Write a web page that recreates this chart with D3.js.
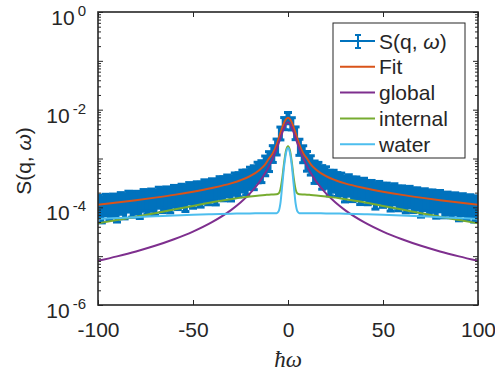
<!DOCTYPE html>
<html>
<head>
<meta charset="utf-8">
<script src="https://cdn.jsdelivr.net/npm/d3@7"></script>
<style>
  body { margin: 0; background: #fff; }
  svg text { font-family: "Liberation Sans", Arial, Helvetica, sans-serif; fill: #262626; }
</style>
</head>
<body>
<div id="chart"></div>
<script>
// measured S(q,w) with error bars
const dataX = [-100,-98,-96,-94,-92,-90,-88,-86,-84,-82,-80,-78,-76,-74,-72,-70,-68,-66,-64,-62,-60,-58,-56,-54,-52,-50,-48,-46,-44,-42,-40,-38,-36,-34,-32,-30,-28,-26,-24,-22,-20,-18,-16,-14,-12,-10,-8,-6,-4,-2,0,
  2,4,6,8,10,12,14,16,18,20,22,24,26,28,30,32,34,36,38,40,42,44,46,48,50,52,54,56,58,60,62,64,66,68,70,72,74,76,78,80,82,84,86,88,90,92,94,96,98,100];
const dataY = [1.19e-4,1.06e-4,1.26e-4,1.16e-4,1.26e-4,1.13e-4,1.36e-4,1.24e-4,1.47e-4,1.32e-4,1.43e-4,1.31e-4,1.57e-4,1.48e-4,1.60e-4,1.47e-4,1.77e-4,1.62e-4,1.76e-4,1.65e-4,1.91e-4,1.83e-4,2.01e-4,1.81e-4,2.19e-4,2.01e-4,2.24e-4,2.14e-4,2.49e-4,2.34e-4,2.59e-4,2.42e-4,2.88e-4,2.78e-4,3.11e-4,2.90e-4,3.41e-4,3.38e-4,3.92e-4,3.80e-4,4.48e-4,4.70e-4,5.78e-4,6.11e-4,7.83e-4,9.6e-4,1.33e-3,1.84e-3,3.40e-3,5.39e-3,6.94e-3,
  5.34e-3,3.43e-3,1.82e-3,1.32e-3,9.7e-4,7.98e-4,5.99e-4,5.72e-4,4.75e-4,4.61e-4,3.72e-4,3.89e-4,3.41e-4,3.38e-4,2.84e-4,3.17e-4,2.73e-4,2.83e-4,2.44e-4,2.69e-4,2.34e-4,2.38e-4,2.05e-4,2.30e-4,2.05e-4,2.11e-4,1.83e-4,2.08e-4,1.78e-4,1.85e-4,1.65e-4,1.83e-4,1.62e-4,1.70e-4,1.42e-4,1.63e-4,1.48e-4,1.53e-4,1.32e-4,1.51e-4,1.30e-4,1.38e-4,1.27e-4,1.34e-4,1.16e-4,1.29e-4,1.15e-4,1.22e-4,1.08e-4,1.15e-4];
const dataErr = [5.7e-5,5.8e-5,5.9e-5,6.0e-5,6.1e-5,6.3e-5,6.4e-5,6.6e-5,6.7e-5,6.9e-5,7.0e-5,7.2e-5,7.4e-5,7.6e-5,7.7e-5,7.9e-5,8.1e-5,8.4e-5,8.6e-5,8.8e-5,9.0e-5,9.3e-5,9.6e-5,9.9e-5,1.02e-4,1.05e-4,1.09e-4,1.13e-4,1.17e-4,1.21e-4,1.25e-4,1.30e-4,1.36e-4,1.42e-4,1.48e-4,1.55e-4,1.64e-4,1.74e-4,1.85e-4,2.0e-4,2.15e-4,2.4e-4,2.6e-4,2.9e-4,3.4e-4,4.2e-4,5.0e-4,6.6e-4,1.0e-3,1.5e-3,1.8e-3,
  1.5e-3,1.0e-3,6.6e-4,5.0e-4,4.2e-4,3.4e-4,2.9e-4,2.6e-4,2.4e-4,2.15e-4,2.0e-4,1.85e-4,1.74e-4,1.64e-4,1.55e-4,1.48e-4,1.42e-4,1.36e-4,1.30e-4,1.25e-4,1.21e-4,1.17e-4,1.13e-4,1.09e-4,1.05e-4,1.02e-4,9.9e-5,9.6e-5,9.3e-5,9.0e-5,8.8e-5,8.6e-5,8.4e-5,8.1e-5,7.9e-5,7.7e-5,7.6e-5,7.4e-5,7.2e-5,7.0e-5,6.9e-5,6.7e-5,6.6e-5,6.4e-5,6.3e-5,6.1e-5,6.0e-5,5.9e-5,5.8e-5,5.7e-5];

// model curves
const curveX = [-100,-90,-80,-70,-60,-50,-40,-30,-25,-20,-15,-12,-10,-8,-6,-5,-4,-3,-2,-1,0,1,2,3,4,5,6,8,10,12,15,20,25,30,40,50,60,70,80,90,100];
const fitY = [1.13e-4,1.25e-4,1.40e-4,1.58e-4,1.80e-4,2.09e-4,2.49e-4,3.09e-4,3.58e-4,4.35e-4,5.84e-4,7.6e-4,1.0e-3,1.28e-3,1.9e-3,2.5e-3,3.3e-3,4.3e-3,5.5e-3,6.4e-3,6.8e-3,
  6.4e-3,5.5e-3,4.3e-3,3.3e-3,2.5e-3,1.9e-3,1.28e-3,1.0e-3,7.6e-4,5.84e-4,4.35e-4,3.58e-4,3.09e-4,2.49e-4,2.09e-4,1.80e-4,1.58e-4,1.40e-4,1.25e-4,1.13e-4];
const globalY = [8.0e-6,9.9e-6,1.25e-5,1.63e-5,2.22e-5,3.18e-5,4.96e-5,8.75e-5,1.25e-4,1.93e-4,3.33e-4,5.02e-4,6.97e-4,1.02e-3,1.58e-3,2.02e-3,2.61e-3,3.39e-3,4.31e-3,5.15e-3,5.5e-3,
  5.15e-3,4.31e-3,3.39e-3,2.61e-3,2.02e-3,1.58e-3,1.02e-3,6.97e-4,5.02e-4,3.33e-4,1.93e-4,1.25e-4,8.75e-5,4.96e-5,3.18e-5,2.22e-5,1.63e-5,1.25e-5,9.9e-6,8.0e-6];
const internalY = [4.7e-5,5.5e-5,6.4e-5,7.6e-5,9.0e-5,1.07e-4,1.27e-4,1.47e-4,1.58e-4,1.67e-4,1.75e-4,1.79e-4,1.82e-4,1.83e-4,1.85e-4,1.92e-4,2.33e-4,4.0e-4,8.4e-4,1.47e-3,1.78e-3,
  1.47e-3,8.4e-4,4.0e-4,2.33e-4,1.92e-4,1.85e-4,1.83e-4,1.82e-4,1.79e-4,1.75e-4,1.67e-4,1.58e-4,1.47e-4,1.27e-4,1.07e-4,9.0e-5,7.6e-5,6.4e-5,5.5e-5,4.7e-5];
const waterY = [5.8e-5,6.05e-5,6.3e-5,6.55e-5,6.8e-5,7.05e-5,7.22e-5,7.4e-5,7.46e-5,7.5e-5,7.55e-5,7.57e-5,7.58e-5,7.59e-5,7.6e-5,8.2e-5,1.2e-4,2.9e-4,7.2e-4,1.33e-3,1.65e-3,
  1.33e-3,7.2e-4,2.9e-4,1.2e-4,8.2e-5,7.6e-5,7.59e-5,7.58e-5,7.57e-5,7.55e-5,7.5e-5,7.46e-5,7.4e-5,7.22e-5,7.05e-5,6.8e-5,6.55e-5,6.3e-5,6.05e-5,5.8e-5];

const xTicks = [-100, -50, 0, 50, 100];
const yLabelExps = [0, -2, -4, -6];
const legendNames = ['S(q, ω)', 'Fit', 'global', 'internal', 'water'];

const colors = {
  data: '#0072BD', fit: '#D95319', global: '#7E2F8E', internal: '#77AC30', water: '#4DBEEE'
};
const ink = '#262626';

const W = 495, H = 378;
const margin = { top: 12, right: 17, bottom: 73, left: 98 };
const width = W - margin.left - margin.right;
const height = H - margin.top - margin.bottom;

const svg = d3.select('#chart').append('svg')
  .attr('width', W).attr('height', H);

const g = svg.append('g')
  .attr('transform', `translate(${margin.left},${margin.top})`);

const x = d3.scaleLinear().domain([-100, 100]).range([0, width]);
const y = d3.scaleLog().domain([1e-6, 1]).range([height, 0]);

g.append('clipPath').attr('id', 'clip')
  .append('rect').attr('width', width).attr('height', height);

const plot = g.append('g').attr('clip-path', 'url(#clip)');

// data with error bars
const data = dataX.map((d, i) => ({ x: d, v: dataY[i], e: dataErr[i] }));
const bars = plot.append('g')
  .attr('stroke', colors.data);
bars.selectAll('line.eb')
  .data(data)
  .enter()
  .append('line')
    .attr('class', 'eb')
    .attr('stroke-width', 5)
    .attr('x1', (d) => x(d.x)).attr('x2', (d) => x(d.x))
    .attr('y1', (d) => y(d.v - d.e)).attr('y2', (d) => y(d.v + d.e));
['capT', 'capB'].forEach((cls, k) => {
  bars.selectAll('line.' + cls)
    .data(data)
    .enter()
    .append('line')
      .attr('class', cls)
      .attr('stroke-width', 3)
      .attr('x1', (d) => x(d.x) - 4).attr('x2', (d) => x(d.x) + 4)
      .attr('y1', (d) => y(k ? d.v - d.e : d.v + d.e))
      .attr('y2', (d) => y(k ? d.v - d.e : d.v + d.e));
});
plot.append('path')
  .datum(data)
  .attr('fill', 'none')
  .attr('stroke', colors.data)
  .attr('stroke-width', 2)
  .attr('d', d3.line().x((d) => x(d.x)).y((d) => y(d.v)));

// model lines
const line = d3.line()
  .x((d) => x(d[0]))
  .y((d) => y(d[1]))
  .curve(d3.curveMonotoneX);

[[fitY, colors.fit], [globalY, colors.global], [internalY, colors.internal], [waterY, colors.water]]
  .forEach(([vals, col]) => {
    plot.append('path')
      .datum(curveX.map((cx, i) => [cx, vals[i]]))
      .attr('fill', 'none')
      .attr('stroke', col)
      .attr('stroke-width', 2)
      .attr('d', line);
  });

// axes: ticks pointing inward on all four sides
const yMajor = d3.range(-6, 1).map((p) => Math.pow(10, p));
const yMinor = [];
for (let p = -6; p < 0; p++) for (let k = 2; k <= 9; k++) yMinor.push(k * Math.pow(10, p));

function styleAxis(sel) {
  sel.select('.domain').remove();
  sel.selectAll('.tick line').attr('stroke', ink).attr('stroke-width', 1);
}

g.append('g').attr('transform', `translate(0,${height})`)
  .call(d3.axisBottom(x).tickValues(xTicks).tickSize(-5).tickPadding(17).tickFormat((d) => d))
  .call(styleAxis)
  .call((s) => s.selectAll('text').attr('font-size', 21).style('font-family', '"Liberation Sans", Arial, sans-serif').attr('fill', ink));
g.append('g')
  .call(d3.axisTop(x).tickValues(xTicks).tickSize(-5).tickFormat(''))
  .call(styleAxis);
g.append('g')
  .call(d3.axisLeft(y).tickValues(yMajor).tickSize(-5).tickFormat(''))
  .call(styleAxis);
g.append('g')
  .call(d3.axisLeft(y).tickValues(yMinor).tickSize(-3).tickFormat(''))
  .call(styleAxis);
g.append('g').attr('transform', `translate(${width},0)`)
  .call(d3.axisRight(y).tickValues(yMajor).tickSize(-5).tickFormat(''))
  .call(styleAxis);
g.append('g').attr('transform', `translate(${width},0)`)
  .call(d3.axisRight(y).tickValues(yMinor).tickSize(-3).tickFormat(''))
  .call(styleAxis);

g.append('rect')
  .attr('width', width).attr('height', height)
  .attr('fill', 'none').attr('stroke', ink).attr('stroke-width', 1.6);

// y tick labels 10^n
yLabelExps.forEach((p) => {
  const t = g.append('text')
    .attr('x', -12)
    .attr('y', y(Math.pow(10, p)) + 13)
    .attr('text-anchor', 'end')
    .attr('font-size', 21);
  t.append('tspan').text('10');
  t.append('tspan').attr('dx', 3).attr('dy', -9).attr('font-size', 15).text(p);
});

// axis titles
svg.append('text')
  .attr('x', margin.left + width / 2)
  .attr('y', 367)
  .attr('text-anchor', 'middle')
  .attr('font-size', 23)
  .style('font-family', '"Liberation Serif", "DejaVu Serif", serif')
  .style('font-style', 'italic')
  .text('ħω');

const yl = svg.append('text')
  .attr('transform', 'translate(31,161) rotate(-90)')
  .attr('text-anchor', 'middle')
  .attr('font-size', 21);
yl.append('tspan').text('S(q, ');
yl.append('tspan').style('font-style', 'italic').text('ω');
yl.append('tspan').text(')');

// legend
const lg = svg.append('g').attr('transform', 'translate(333,23)');
lg.append('rect')
  .attr('width', 132).attr('height', 135)
  .attr('fill', '#fff').attr('stroke', ink).attr('stroke-width', 1);
const legendColors = [colors.data, colors.fit, colors.global, colors.internal, colors.water];
legendNames.forEach((name, i) => {
  const ry = 18 + i * 25.8;
  const row = lg.append('g').attr('transform', `translate(0,${ry})`);
  row.append('line')
    .attr('x1', 7).attr('x2', 42).attr('y1', 0).attr('y2', 0)
    .attr('stroke', legendColors[i]).attr('stroke-width', 2);
  if (i === 0) {
    row.append('line').attr('x1', 25).attr('x2', 25).attr('y1', -6).attr('y2', 7)
      .attr('stroke', colors.data).attr('stroke-width', 2);
    row.append('line').attr('x1', 22).attr('x2', 28).attr('y1', -6).attr('y2', -6)
      .attr('stroke', colors.data).attr('stroke-width', 2);
    row.append('line').attr('x1', 22).attr('x2', 28).attr('y1', 7).attr('y2', 7)
      .attr('stroke', colors.data).attr('stroke-width', 2);
  }
  const t = row.append('text').attr('x', 46).attr('y', 7.5).attr('font-size', 21);
  if (i === 0) {
    t.append('tspan').text('S(q, ');
    t.append('tspan').style('font-style', 'italic').text('ω');
    t.append('tspan').text(')');
  } else {
    t.text(name);
  }
});
</script>
</body>
</html>
